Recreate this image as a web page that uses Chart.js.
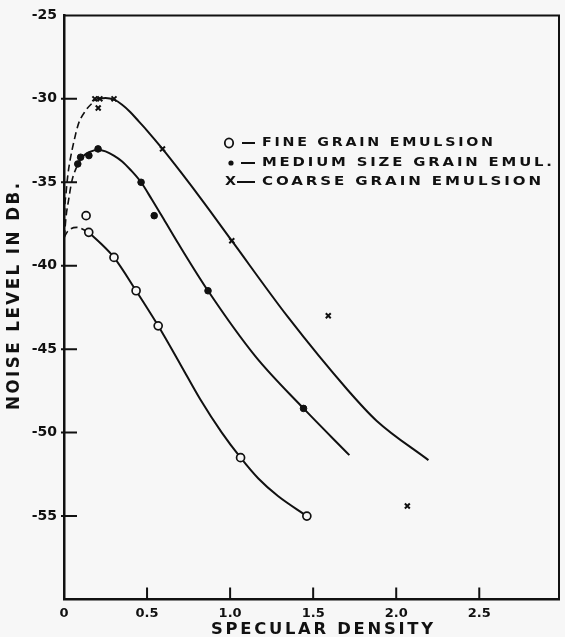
<!DOCTYPE html>
<html>
<head>
<meta charset="utf-8">
<script src="https://cdn.jsdelivr.net/npm/chart.js@4.4.1/dist/chart.umd.min.js"></script>
<style>
  html, body { margin: 0; padding: 0; background: #f7f7f7; }
  #wrap { width: 565px; height: 637px; }
</style>
</head>
<body>
<div id="wrap"><canvas id="c" width="565" height="637"></canvas></div>
<script>
// Noise level (dB) against specular density for three emulsion grain sizes.

const xTicks = [0, 0.5, 1.0, 1.5, 2.0, 2.5];
const xTickLabels = ['0', '0.5', '1.0', '1.5', '2.0', '2.5'];
const yTicks = [-25, -30, -35, -40, -45, -50, -55];

const seriesNames = ['FINE GRAIN EMULSION', 'MEDIUM SIZE GRAIN EMUL.', 'COARSE GRAIN EMULSION'];
const seriesSymbols = ['O', '\u2022', 'X'];

// Measured points
const fineX   = [0.133, 0.149, 0.301, 0.434, 0.567, 1.063, 1.462];
const fineY   = [-37.0, -38.0, -39.5, -41.5, -43.6, -51.5, -55.0];
const mediumX = [0.083, 0.100, 0.150, 0.205, 0.464, 0.543, 0.867, 1.442];
const mediumY = [-33.9, -33.5, -33.4, -33.0, -35.0, -37.0, -41.5, -48.55];
const coarseX = [0.186, 0.216, 0.206, 0.301, 0.593, 1.010, 1.591, 2.067];
const coarseY = [-30.0, -30.0, -30.55, -30.0, -33.0, -38.5, -43.0, -54.4];

// Drawn-in curves through the points (solid) and their extensions toward zero density (dashed)
const fineCurveX   = [0.149, 0.220, 0.301, 0.434, 0.567, 0.700, 0.820, 0.950, 1.063, 1.170, 1.288, 1.462];
const fineCurveY   = [-38.0, -38.65, -39.5, -41.5, -43.6, -45.9, -48.0, -50.0, -51.5, -52.75, -53.8, -55.0];
const fineDashX    = [0.000, 0.026, 0.077, 0.149];
const fineDashY    = [-38.3, -37.9, -37.7, -38.0];

const mediumCurveX = [0.083, 0.100, 0.125, 0.150, 0.205, 0.250, 0.300, 0.350, 0.400, 0.464, 0.530, 0.600, 0.690, 0.867, 1.150, 1.442, 1.718];
const mediumCurveY = [-33.9, -33.6, -33.35, -33.2, -33.05, -33.15, -33.4, -33.75, -34.25, -35.0, -36.05, -37.2, -38.7, -41.5, -45.4, -48.55, -51.35];
const mediumDashX  = [0.002, 0.012, 0.027, 0.048, 0.083];
const mediumDashY  = [-38.3, -37.1, -36.1, -34.9, -33.9];

const coarseCurveX = [0.196, 0.250, 0.301, 0.350, 0.400, 0.450, 0.500, 0.593, 0.700, 0.841, 1.010, 1.350, 1.704, 1.883, 2.194];
const coarseCurveY = [-30.0, -29.95, -30.05, -30.35, -30.8, -31.35, -31.9, -33.0, -34.35, -36.2, -38.5, -43.1, -47.4, -49.3, -51.65];
const coarseDashX  = [0.002, 0.004, 0.012, 0.024, 0.038, 0.061, 0.087, 0.127, 0.196];
const coarseDashY  = [-38.3, -36.9, -35.7, -34.5, -33.6, -32.5, -31.5, -30.75, -30.0];

const INK = '#111111';
const PAPER = '#f7f7f7';

const pts = (xs, ys) => xs.map((x, i) => ({ x: x, y: ys[i] }));

function curve(xs, ys, dashed) {
  return {
    data: pts(xs, ys),
    showLine: true,
    pointRadius: 0,
    borderColor: INK,
    borderWidth: dashed ? 1.6 : 2,
    borderDash: dashed ? [7, 4] : [],
    cubicInterpolationMode: 'monotone',
    fill: false,
    order: 2
  };
}

function markers(xs, ys, style) {
  return Object.assign({
    data: pts(xs, ys),
    showLine: false,
    borderColor: INK,
    order: 0
  }, style);
}

// Wide hand-lettered text: open spacing, stretched sideways to span a given width
function lettered(ctx, text, x, y, width, spacing) {
  ctx.letterSpacing = '0px';
  const n = Array.from(text).length;
  const w = ctx.measureText(text).width + spacing * (n - 1);
  ctx.save();
  ctx.translate(x, y);
  ctx.scale(width / w, 1);
  ctx.letterSpacing = spacing + 'px';
  ctx.fillText(text, 0, 0);
  ctx.restore();
  ctx.letterSpacing = '0px';
}

const paperPlugin = {
  id: 'paper',
  beforeDraw(chart) {
    const ctx = chart.ctx;
    ctx.save();
    ctx.fillStyle = PAPER;
    ctx.fillRect(0, 0, chart.width, chart.height);
    ctx.restore();
  }
};

const framePlugin = {
  id: 'frame',
  afterDraw(chart) {
    const ctx = chart.ctx;
    const a = chart.chartArea;
    const xs = chart.scales.x, ys = chart.scales.y;
    ctx.save();
    ctx.strokeStyle = INK;
    ctx.lineWidth = 2;
    ctx.beginPath();
    ctx.moveTo(a.left, a.top); ctx.lineTo(a.right, a.top); ctx.lineTo(a.right, a.bottom);
    ctx.stroke();
    // inward tick marks
    ctx.beginPath();
    xTicks.forEach(v => {
      if (v === 0) return;
      const px = xs.getPixelForValue(v);
      ctx.moveTo(px, a.bottom); ctx.lineTo(px, a.bottom - 12);
    });
    yTicks.forEach(v => {
      if (v === -25) return;
      const py = ys.getPixelForValue(v);
      ctx.moveTo(a.left - 3, py); ctx.lineTo(a.left + 13, py);
    });
    ctx.stroke();

    // axis titles
    ctx.fillStyle = INK;
    ctx.textBaseline = 'middle';
    ctx.textAlign = 'left';
    ctx.font = 'bold 15px "DejaVu Sans"';
    lettered(ctx, 'SPECULAR DENSITY', 211, 630, 222, 2.5);
    ctx.save();
    ctx.translate(15, 410);
    ctx.rotate(-Math.PI / 2);
    ctx.font = 'bold 17px "DejaVu Sans"';
    lettered(ctx, 'NOISE LEVEL IN DB.', 0, 0, 227, 2.5);
    ctx.restore();

    // key
    ctx.font = 'bold 13px "DejaVu Sans"';
    const rowsY = [143, 163, 182];
    const textW = [231, 290, 279];
    rowsY.forEach((y, i) => {
      if (i === 0) {
        ctx.lineWidth = 1.8;
        ctx.beginPath(); ctx.ellipse(229, y, 4.2, 4.6, 0, 0, Math.PI * 2); ctx.stroke();
        ctx.fillRect(242, y - 1, 13, 2);
      } else if (i === 1) {
        ctx.beginPath(); ctx.arc(231, y, 2.6, 0, Math.PI * 2); ctx.fill();
        ctx.fillRect(241, y - 1, 14, 2);
      } else {
        lettered(ctx, seriesSymbols[i], 225, y, 11, 0);
        ctx.fillRect(237, y - 1, 18, 2);
      }
      lettered(ctx, seriesNames[i], 262, y, textW[i], 2.5);
    });
    ctx.restore();
  }
};

new Chart(document.getElementById('c'), {
  type: 'scatter',
  data: {
    datasets: [
      markers(fineX, fineY, { pointStyle: 'circle', pointRadius: 4, borderWidth: 1.7, backgroundColor: PAPER }),
      markers(mediumX, mediumY, { pointStyle: 'circle', pointRadius: 3.3, borderWidth: 1, backgroundColor: INK }),
      markers(coarseX, coarseY, { pointStyle: 'crossRot', pointRadius: 3.5, borderWidth: 2, backgroundColor: INK }),
      curve(fineCurveX, fineCurveY, false),
      curve(fineDashX, fineDashY, true),
      curve(mediumCurveX, mediumCurveY, false),
      curve(mediumDashX, mediumDashY, true),
      curve(coarseCurveX, coarseCurveY, false),
      curve(coarseDashX, coarseDashY, true)
    ]
  },
  options: {
    responsive: false,
    animation: false,
    events: [],
    layout: { padding: { left: 0, top: 14, right: 2, bottom: 0 } },
    plugins: { legend: { display: false }, tooltip: { enabled: false } },
    scales: {
      x: {
        type: 'linear', min: 0, max: 2.98,
        afterBuildTicks: s => { s.ticks = xTicks.map(v => ({ value: v })); },
        afterFit: s => { s.height = 37.5; },
        grid: { display: false, drawTicks: false },
        border: { display: true, color: INK, width: 2.5 },
        ticks: {
          callback: v => xTickLabels[xTicks.indexOf(v)],
          font: { family: 'DejaVu Sans', weight: 'bold', size: 13 },
          color: INK, padding: 6, maxRotation: 0, autoSkip: false
        }
      },
      y: {
        type: 'linear', min: -60, max: -25,
        afterBuildTicks: s => { s.ticks = yTicks.map(v => ({ value: v })); },
        afterFit: s => { s.width = 64; },
        grid: { display: false, drawTicks: false },
        border: { display: true, color: INK, width: 2.5 },
        ticks: { font: { family: 'DejaVu Sans', weight: 'bold', size: 14 }, color: INK, padding: 7, autoSkip: false }
      }
    }
  },
  plugins: [paperPlugin, framePlugin]
});
</script>
</body>
</html>
